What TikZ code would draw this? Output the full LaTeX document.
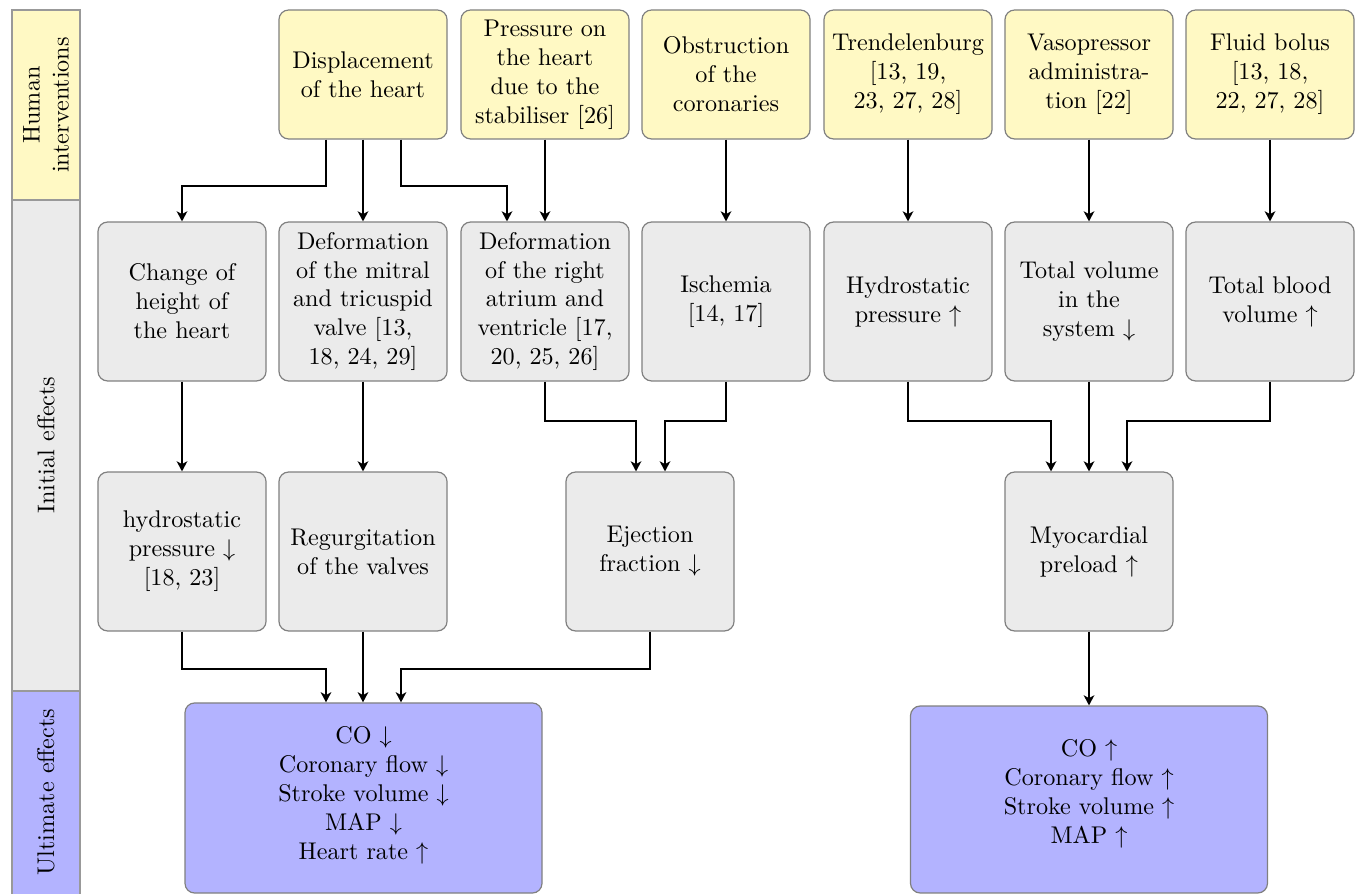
\documentclass[tikz,border=0pt]{standalone}
\usetikzlibrary{arrows.meta,calc}
\definecolor{hyel}{RGB}{255,249,196}
\definecolor{hgray}{RGB}{235,235,235}
\definecolor{hblue}{RGB}{179,179,255}
\begin{document}
\begin{tikzpicture}[x=0.414pt,y=-0.414pt,
  box/.style={draw=black!50,line width=0.5pt,rounded corners=4pt,align=center,inner sep=0pt,
    minimum width=69.6pt,minimum height=65.8pt},
  ybox/.style={box,fill=hyel,minimum height=53.4pt},
  gbox/.style={box,fill=hgray},
  bbox/.style={box,fill=hblue,minimum width=147.8pt},
  band/.style={draw=black!40,line width=0.5pt},
  arr/.style={-{Stealth[length=4.2pt,width=4.4pt,inset=1.2pt]},line width=0.8pt}]
\useasboundingbox (0,0) rectangle (1361,894);
% bands
\draw[band,fill=hyel] (12,10) rectangle (80,200);
\draw[band,fill=hgray] (12,200) rectangle (80,691);
\draw[band,fill=hblue] (12,691) rectangle (80,896);
\node[rotate=90,align=center] (lh) at (46,105) {Human\\interventions};
\node[rotate=90] (li) at (46,445) {Initial effects};
\node[rotate=90] (lu) at (46,792) {Ultimate effects};
% row 1
\node[ybox] (d1) at (363,74.5) {Displacement\\of the heart};
\node[ybox] (d2) at (545,74.5) {Pressure on\\the heart\\due to the\\stabiliser [26]};
\node[ybox] (d3) at (726,74.5) {Obstruction\\of the\\coronaries};
\node[ybox] (d4) at (908,74.5) {Trendelenburg\\{}[13, 19,\\23, 27, 28]};
\node[ybox] (d5) at (1089,74.5) {Vasopressor\\administra-\\tion [22]};
\node[ybox] (d6) at (1270,74.5) {Fluid bolus\\{}[13, 18,\\22, 27, 28]};
% row 2
\node[gbox] (e1) at (182,301.5) {Change of\\height of\\the heart};
\node[gbox] (e2) at (363,301.5) {Deformation\\of the mitral\\and tricuspid\\valve [13,\\18, 24, 29]};
\node[gbox] (e3) at (545,301.5) {Deformation\\of the right\\atrium and\\ventricle [17,\\20, 25, 26]};
\node[gbox] (e4) at (726,301.5) {Ischemia\\{}[14, 17]};
\node[gbox] (e5) at (908,301.5) {Hydrostatic\\pressure $\uparrow$};
\node[gbox] (e6) at (1089,301.5) {Total volume\\in the\\system $\downarrow$};
\node[gbox] (e7) at (1270,301.5) {Total blood\\volume $\uparrow$};
% row 3
\node[gbox] (f1) at (182,551.5) {hydrostatic\\pressure $\downarrow$\\{}[18, 23]};
\node[gbox] (f2) at (363,551.5) {Regurgitation\\of the valves};
\node[gbox] (f3) at (650,551.5) {Ejection\\fraction $\downarrow$};
\node[gbox] (f4) at (1089,551.5) {Myocardial\\preload $\uparrow$};
% row 4
\node[bbox,minimum height=78.7pt] (g1) at (363.5,798) {};
\node[align=center] (g1t) at (363.5,795) {CO $\downarrow$\\Coronary flow $\downarrow$\\Stroke volume $\downarrow$\\MAP $\downarrow$\\Heart rate $\uparrow$};
\node[bbox,minimum height=77.4pt] (g2) at (1089,799.5) {};
\node[align=center] (g2t) at (1089,794) {CO $\uparrow$\\Coronary flow $\uparrow$\\Stroke volume $\uparrow$\\MAP $\uparrow$};
% arrows row1 -> row2
\draw[arr] ($(d1.south)+(-37,0)$) -- ++(0,46) -| (e1.north);
\draw[arr] (d1.south) -- (e2.north);
\draw[arr] ($(d1.south)+(38,0)$) -- ++(0,46) -| ($(e3.north)+(-38,0)$);
\draw[arr] (d2.south) -- (e3.north);
\draw[arr] (d3.south) -- (e4.north);
\draw[arr] (d4.south) -- (e5.north);
\draw[arr] (d5.south) -- (e6.north);
\draw[arr] (d6.south) -- (e7.north);
% row2 -> row3
\draw[arr] (e1.south) -- (f1.north);
\draw[arr] (e2.south) -- (f2.north);
\draw[arr] (e3.south) -- ++(0,39) -| ($(f3.north)+(-14,0)$);
\draw[arr] (e4.south) -- ++(0,39) -| ($(f3.north)+(15,0)$);
\draw[arr] (e5.south) -- ++(0,39) -| ($(f4.north)+(-38,0)$);
\draw[arr] (e6.south) -- (f4.north);
\draw[arr] (e7.south) -- ++(0,39) -| ($(f4.north)+(38,0)$);
% row3 -> row4
\draw[arr] (f1.south) -- ++(0,37) -| ($(g1.north)+(-37.5,0)$);
\draw[arr] (f2.south) -- (g1.north -| f2.south);
\draw[arr] (f3.south) -- ++(0,37) -| ($(g1.north)+(37.5,0)$);
\draw[arr] (f4.south) -- (g2.north);
\end{tikzpicture}
\end{document}
